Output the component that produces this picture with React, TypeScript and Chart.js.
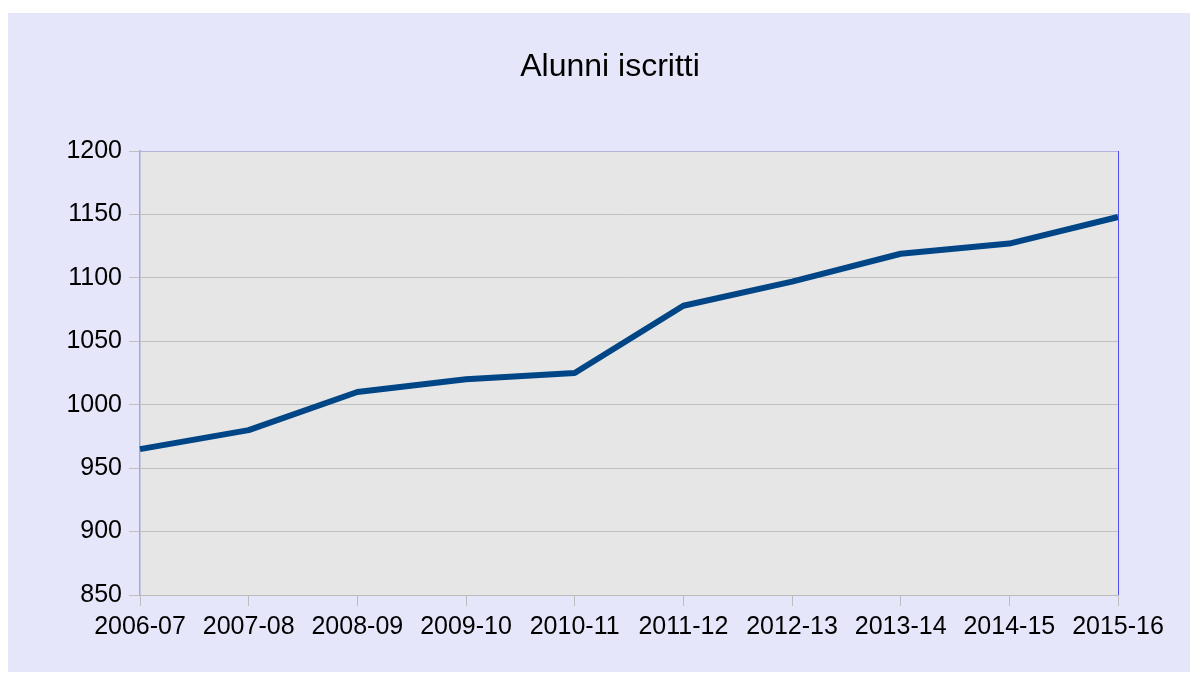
import React, { useEffect, useRef } from "react";
import { Chart, registerables } from "chart.js";

Chart.register(...registerables);

const categories = ["2006-07", "2007-08", "2008-09", "2009-10", "2010-11", "2011-12", "2012-13", "2013-14", "2014-15", "2015-16"];
const enrolled = [965, 980, 1010, 1020, 1025, 1078, 1097, 1119, 1127, 1148];
const yMin = 850;
const yMax = 1200;
const yStep = 50;
const chartTitle = "Alunni iscritti";

const FONT = "'Liberation Sans', Arial, sans-serif";

const plotBg = {
  id: "plotBg",
  beforeDraw(chart: any) {
    const { ctx, chartArea } = chart;
    ctx.save();
    ctx.fillStyle = "#e6e6e6";
    ctx.fillRect(chartArea.left, chartArea.top, chartArea.right - chartArea.left, chartArea.bottom - chartArea.top);
    ctx.fillStyle = "#000000";
    ctx.font = `32px ${FONT}`;
    ctx.textAlign = "center";
    ctx.textBaseline = "middle";
    ctx.fillText(chartTitle, 602, 54);
    ctx.restore();
  },
  afterDatasetsDraw(chart: any) {
    const { ctx, chartArea } = chart;
    ctx.save();
    ctx.lineWidth = 1;
    ctx.strokeStyle = "#b3b3d9";
    ctx.beginPath();
    ctx.moveTo(chartArea.left, chartArea.top + 0.5);
    ctx.lineTo(chartArea.right, chartArea.top + 0.5);
    ctx.stroke();
    ctx.strokeStyle = "#4d4df2";
    ctx.beginPath();
    ctx.moveTo(chartArea.right + 0.5, chartArea.top);
    ctx.lineTo(chartArea.right + 0.5, chartArea.bottom);
    ctx.stroke();
    ctx.restore();
  },
};

export default function App() {
  const ref = useRef<HTMLCanvasElement>(null);
  useEffect(() => {
    if (!ref.current) return;
    const chart = new Chart(ref.current, {
      type: "line",
      data: {
        labels: categories,
        datasets: [
          {
            label: "Alunni",
            data: enrolled,
            borderColor: "#004586",
            backgroundColor: "#004586",
            borderWidth: 6,
            pointRadius: 0,
            tension: 0,
            borderJoinStyle: "round",
            borderCapStyle: "butt",
          },
        ],
      },
      plugins: [plotBg],
      options: {
        animation: false,
        responsive: false,
        maintainAspectRatio: false,
        layout: { padding: { left: 0, right: 72, top: 138, bottom: 0 } },
        plugins: {
          legend: { display: false },
          tooltip: { enabled: false },
          title: { display: false },
        },
        scales: {
          x: {
            offset: false,
            grid: {
              display: true,
              drawOnChartArea: false,
              drawTicks: true,
              tickLength: 11,
              color: "#bdbdbd",
            },
            border: { display: true, color: "#bdbdbd", width: 1 },
            ticks: {
              color: "#000000",
              font: { family: FONT, size: 25 },
              padding: 6,
              maxRotation: 0,
              autoSkip: false,
            },
            afterFit(scale: any) {
              scale.height = 77;
            },
          },
          y: {
            min: yMin,
            max: yMax,
            grid: {
              color: "#c0c0c0",
              drawTicks: true,
              tickLength: 11,
            },
            border: { display: true, color: "#a8a8d6", width: 1.5 },
            ticks: {
              stepSize: yStep,
              color: "#000000",
              font: { family: FONT, size: 25 },
              padding: 7,
              callback: (v: any) => String(v),
            },
            afterFit(scale: any) {
              scale.width = 132;
            },
          },
        },
      },
    });
    return () => chart.destroy();
  }, []);
  return (
    <div style={{ marginTop: 5, width: 1182, height: 659, background: "#e6e6fa" }}>
      <canvas ref={ref} width={1182} height={659} style={{ display: "block" }} />
    </div>
  );
}
